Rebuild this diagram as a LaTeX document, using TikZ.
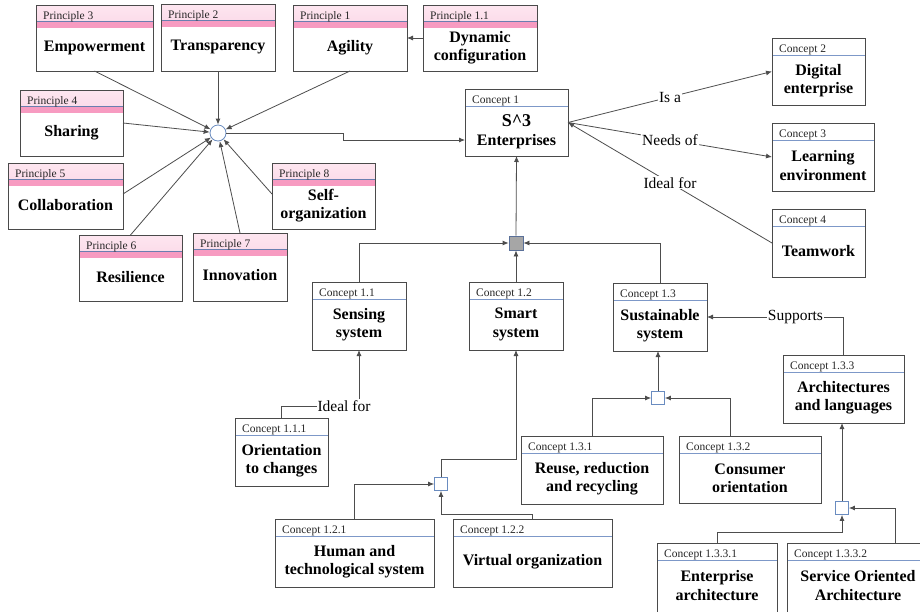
\documentclass[tikz,border=0pt]{standalone}
\usepackage{fontspec}
\setmainfont{Liberation Serif}
\usetikzlibrary{arrows.meta,calc}
\definecolor{pinkA}{HTML}{FDE6F0}
\definecolor{pinkB}{HTML}{F9BFD7}
\definecolor{pinkC}{HTML}{F79BC1}
\definecolor{hdrln}{HTML}{6A7FB0}
\definecolor{cln}{HTML}{7D98C8}
\definecolor{boxln}{HTML}{4A4A4A}
\definecolor{lnc}{HTML}{4D4D4D}
\definecolor{sqln}{HTML}{6A8CC0}
\definecolor{gsqf}{HTML}{A6A6A6}
\definecolor{gsql}{HTML}{5A7099}
\tikzset{
  basebox/.style={rectangle, draw=boxln, line width=0.8pt, fill=white, inner sep=0pt, outer sep=0pt},
  prin/.style={basebox, path picture={
      \fill[top color=pinkA, bottom color=pinkB] (path picture bounding box.north west) rectangle ([yshift=-16.5pt]path picture bounding box.north east);
      \fill[pinkC] ([yshift=-16.5pt]path picture bounding box.north west) rectangle ([yshift=-22.5pt]path picture bounding box.north east);
      \draw[hdrln, line width=0.8pt] ([yshift=-16.5pt]path picture bounding box.north west) -- ([yshift=-16.5pt]path picture bounding box.north east);}},
  conc/.style={basebox, path picture={
      \draw[cln, line width=0.8pt] ([yshift=-17pt]path picture bounding box.north west) -- ([yshift=-17pt]path picture bounding box.north east);}},
  hdr/.style={inner sep=0pt, font=\fontsize{11.5}{13}\selectfont, text=black!85},
  ttl/.style={inner sep=0pt, align=center, font=\fontsize{16}{18.5}\selectfont\bfseries},
  elbl/.style={fill=white, inner sep=1pt, font=\fontsize{15.5}{17}\selectfont},
  conn/.style={draw=lnc, line width=0.8pt, -{Latex[length=6pt,width=5pt]}},
  junc/.style={circle, draw=sqln, fill=white, line width=0.8pt, minimum size=16pt, inner sep=0pt},
  gsq/.style={rectangle, draw=gsql, fill=gsqf, line width=0.8pt, minimum size=14pt, inner sep=0pt},
  wsq/.style={rectangle, draw=sqln, fill=white, line width=0.8pt, minimum size=13pt, inner sep=0pt},
}
\newcommand\mkbox[8]{%
  \pgfmathsetmacro\bxw{#4-#2}\pgfmathsetmacro\bxh{#5-#3}%
  \pgfmathsetmacro\bxc{(#2+#4)/2}\pgfmathsetmacro\byc{(#3+#5)/2}%
  \node[#8, minimum width=\bxw pt, minimum height=\bxh pt] (#1) at (\bxc,\byc) {};
  \node[hdr, anchor=base west] (#1h) at ({#2+7},{#3+14.5}) {#6};
  \node[ttl] (#1t) at (\bxc,{#3+42.5}) {#7};
}
\begin{document}
\begin{tikzpicture}[x=1pt,y=-1pt]
\clip (0,0) rectangle (920,611);
\fill[white] (0,0) rectangle (920,611);
% principles
\mkbox{p3}{36}{5}{153}{71}{Principle 3}{Empowerment}{prin}
\mkbox{p2}{161}{4}{275}{71}{Principle 2}{Transparency}{prin}
\mkbox{p1}{293}{5}{407}{71}{Principle 1}{Agility}{prin}
\mkbox{p11}{423}{5}{537}{71}{Principle 1.1}{Dynamic\\configuration}{prin}
\mkbox{p4}{20}{90}{123}{156}{Principle 4}{Sharing}{prin}
\mkbox{p5}{8}{163}{123}{229}{Principle 5}{Collaboration}{prin}
\mkbox{p6}{79}{235}{182}{301}{Principle 6}{Resilience}{prin}
\mkbox{p7}{193}{233}{287}{301}{Principle 7}{Innovation}{prin}
\mkbox{p8}{272}{163}{375}{229}{Principle 8}{Self-\\organization}{prin}
% concepts
\mkbox{c1}{465}{89}{568}{156}{Concept 1}{\fontsize{18}{21}\selectfont S\textasciicircum 3\\Enterprises}{conc}
\mkbox{c2}{772}{38}{865}{105}{Concept 2}{Digital\\enterprise}{conc}
\mkbox{c3}{772}{123}{874}{191}{Concept 3}{Learning\\environment}{conc}
\mkbox{c4}{772}{209}{865}{277}{Concept 4}{Teamwork}{conc}
\mkbox{c11}{312}{282}{406}{350}{Concept 1.1}{Sensing\\system}{conc}
\mkbox{c12}{469}{282}{563}{350}{Concept 1.2}{Smart\\system}{conc}
\mkbox{c13}{613}{283}{707}{351}{Concept 1.3}{Sustainable\\system}{conc}
\mkbox{c111}{235}{418}{328}{486}{Concept 1.1.1}{Orientation\\to changes}{conc}
\mkbox{c121}{275}{519}{434}{587}{Concept 1.2.1}{Human and\\technological system}{conc}
\mkbox{c122}{453}{519}{612}{587}{Concept 1.2.2}{Virtual organization}{conc}
\mkbox{c131}{521}{436}{663}{504}{Concept 1.3.1}{Reuse, reduction\\and recycling}{conc}
\mkbox{c132}{679}{436}{821}{503}{Concept 1.3.2}{Consumer\\orientation}{conc}
\mkbox{c133}{783}{355}{904}{423}{Concept 1.3.3}{Architectures\\and languages}{conc}
\mkbox{c1331}{657}{543}{777}{625}{Concept 1.3.3.1}{Enterprise\\architecture}{conc}
\mkbox{c1332}{787}{543}{929}{625}{Concept 1.3.3.2}{Service Oriented\\Architecture}{conc}
% junctions
\node[junc] (circ) at (218,133) {};
\node[gsq] (gs) at (516,243) {};
\node[wsq] (s12) at (441,484) {};
\node[wsq] (s13) at (658,398) {};
\node[wsq] (s133) at (842,508) {};
% principle connectors
\draw[conn] (p3.south) -- (circ);
\draw[conn] (p2.south) -- (circ);
\draw[conn] (p1.south) -- (circ);
\draw[conn] (p4.east) -- (circ);
\draw[conn] ([yshift=2pt]p5.east) -- (circ);
\draw[conn] (p6.north) -- (circ);
\draw[conn] (p7.north) -- (circ);
\draw[conn] ([yshift=2pt]p8.west) -- (circ);
\draw[conn] (p11.west) -- (p1.east);
\draw[conn] (circ.east) -- ++(117,0) |- ([yshift=-17.5pt]c1.west);
% concept 1 relations
\draw[conn] (c1.east) -- node[elbl] (lisa) {Is a} (c2.west);
\draw[conn] (c1.east) -- node[elbl] (lneed) {Needs of} (c3.west);
\draw[conn] (c4.west) -- node[elbl] (lideal) {Ideal for} (c1.east);
% composition
\draw[conn] (c11.north) |- (gs.west);
\draw[conn] (c13.north) |- (gs.east);
\draw[conn] (c12.north) -- (gs.south);
\draw[conn] (gs.north) -- (c1.south);
\draw[conn] (c111.north) |- ([yshift=-56pt]c11.south) -- (c11.south);
\node[elbl] (lideal2) at ([xshift=-15pt,yshift=-56pt]c11.south) {Ideal for};
\draw[conn] (c121.north) |- (s12.west);
\draw[conn] (c122.north) -- ++(0,-5) -| (s12.south);
\draw[conn] (s12.north) -- ++(0,-18) -| (c12.south);
\draw[conn] (c131.north) |- (s13.west);
\draw[conn] ([xshift=-20pt]c132.north) |- (s13.east);
\draw[conn] (s13.north) -- (s13.north |- c13.south);
\draw[conn] (c133.north) |- node[elbl, pos=0.676] (lsup) {Supports} (c13.east);
\draw[conn] (c1331.north) -- ++(0,-11) -| (s133.south);
\draw[conn] ([xshift=37pt]c1332.north) |- (s133.east);
\draw[conn] (s133.north) -- (s133.north |- c133.south);
\end{tikzpicture}
\end{document}
